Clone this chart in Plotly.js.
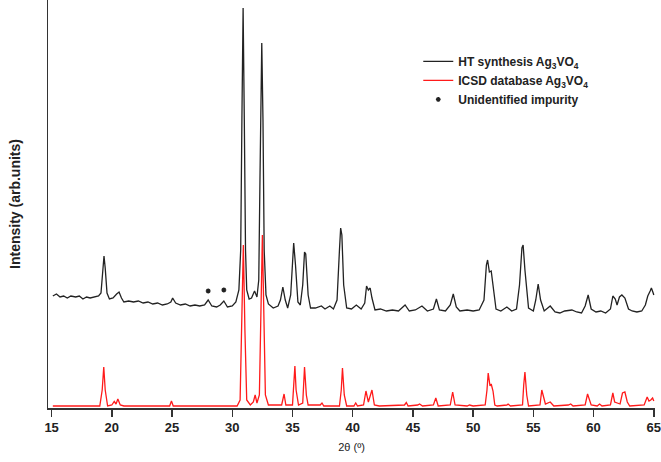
<!DOCTYPE html>
<html>
<head>
<meta charset="utf-8">
<script src="https://cdn.plot.ly/plotly-3.0.1.min.js"></script>
<style>html,body{margin:0;padding:0;background:#fff;}#chart{width:661px;height:462px;}</style>
</head>
<body>
<div id="chart"></div>
<script>
// HT synthesis Ag3VO4 (measured pattern), 2θ in degrees and intensity (arb. units)
const htTheta = [15.1,15.4,15.7,16.0,16.3,16.6,17.0,17.3,17.6,17.9,18.2,18.6,18.9,19.1,19.25,19.35,19.45,19.6,19.8,20.1,20.4,20.6,20.8,21.0,21.4,21.8,22.2,22.6,23.0,23.4,23.8,24.2,24.6,24.9,25.05,25.3,25.7,26.1,26.5,26.9,27.3,27.7,28.0,28.3,28.7,29.0,29.3,29.6,30.0,30.3,30.55,30.7,30.8,30.9,31.0,31.1,31.2,31.4,31.6,31.85,32.05,32.2,32.3,32.4,32.45,32.55,32.65,32.8,33.0,33.4,33.8,34.0,34.2,34.4,34.6,34.85,35.0,35.1,35.25,35.45,35.65,35.85,36.0,36.1,36.3,36.5,36.9,37.4,37.7,38.1,38.4,38.7,38.9,39.0,39.1,39.25,39.5,39.9,40.3,40.7,41.0,41.15,41.3,41.45,41.6,41.85,42.3,42.8,43.3,43.8,44.35,44.7,45.2,45.75,46.2,46.7,46.95,47.2,47.7,48.1,48.35,48.6,48.9,49.5,50.0,50.5,50.9,51.1,51.2,51.35,51.5,51.7,51.9,52.3,52.8,53.2,53.6,53.85,54.05,54.15,54.3,54.6,55.0,55.2,55.4,55.6,55.9,56.4,56.8,57.2,57.6,58.2,58.6,59.0,59.3,59.55,59.8,60.2,60.6,61.0,61.4,61.6,61.8,61.95,62.15,62.35,62.6,62.9,63.2,63.6,64.0,64.3,64.5,64.7,64.8,64.95,65.0];
const htIntensity = [112,114,111,112,110,112,111,112,109,111,110,111,112,115,138,152,140,115,109,110,114,116,110,106,107,106,107,105,106,104,105,103,104,106,110,105,103,104,102,103,102,103,108,102,101,103,107,101,102,106,118,158,288,400,288,158,118,109,110,117,111,128,228,348,365,288,158,113,104,100,102,108,121,108,100,113,153,165,143,106,103,123,156,154,113,100,100,102,99,102,99,108,158,180,173,123,100,99,103,99,105,122,118,120,110,98,99,97,98,97,103,97,98,102,97,99,109,98,97,103,114,101,97,98,97,98,108,143,148,136,137,118,99,97,101,97,99,123,160,163,138,100,97,108,124,108,97,102,96,95,97,98,96,95,102,113,99,96,97,95,99,112,109,103,111,113,110,99,97,96,97,103,112,117,120,115,113];

// ICSD database Ag3VO4 (reference pattern)
const icsdTheta = [15.1,19.0,19.2,19.33,19.45,19.65,20.0,20.2,20.35,20.5,20.7,21.0,24.8,24.95,25.1,30.4,30.65,30.8,30.92,31.05,31.2,31.5,31.75,31.9,32.05,32.25,32.4,32.5,32.6,32.75,33.0,34.1,34.3,34.45,35.0,35.1,35.2,35.3,35.5,35.85,36.0,36.15,36.3,37.3,37.45,37.6,38.9,39.05,39.15,39.3,39.5,40.1,40.25,40.4,40.9,41.1,41.3,41.6,41.8,42.2,44.3,44.45,44.6,45.4,45.55,45.8,46.7,46.9,47.1,48.1,48.3,48.5,49.5,49.7,50.0,51.0,51.15,51.25,51.4,51.5,51.65,51.8,52.0,52.8,52.9,53.1,54.1,54.2,54.3,54.45,54.6,55.55,55.7,55.85,56.0,56.4,56.7,57.9,58.1,58.3,59.3,59.5,59.65,59.8,60.3,60.5,60.7,61.4,61.6,61.75,62.2,62.4,62.6,62.8,63.0,64.2,64.45,64.6,64.75,64.9,65.0];
const icsdIntensity = [2,2,18,41,18,2,3,6.5,4,9,3,2,2,7,2,2,8,78,163,78,8,3,6,13,5,13,108,173,108,13,3,3,14,3,3,18,42,18,3,5,41,13,3,3,5,2,2,18,40,13,2,2,5,2,3,17,6,18,3,2,3,5.5,2,3,4,2,3,10,2,3,16,3,2,3,2,3,18,35,22,24,17,3,2,3,4,2,3,23,36,13,2,3,18,11,4,6,2,3,4,2,3,14,8,3,2,4,2,3,15,6,4,15,16,6,2,3,11,7,8,10,7];

// Unidentified impurity markers
const impTheta = [28.0, 29.3];
const impIntensity = [117, 118];

const legendHT = 'HT synthesis Ag<sub>3</sub>VO<sub>4</sub>';
const legendICSD = 'ICSD database Ag<sub>3</sub>VO<sub>4</sub>';
const legendImp = 'Unidentified impurity';
const xTicks = [15,20,25,30,35,40,45,50,55,60,65];

const traces = [
  {x: htTheta, y: htIntensity, type: 'scatter', mode: 'lines', name: legendHT,
   line: {color: '#222222', width: 1.3}},
  {x: icsdTheta, y: icsdIntensity, type: 'scatter', mode: 'lines', name: legendICSD,
   line: {color: '#ff1a1a', width: 1.3}},
  {x: impTheta, y: impIntensity, type: 'scatter', mode: 'markers', name: legendImp,
   marker: {symbol: 'asterisk-open', size: 4, color: '#222222', line: {color: '#222222', width: 1.4}}}
];

const layout = {
  width: 661, height: 462,
  margin: {l: 48, r: 6, t: 0, b: 54},
  paper_bgcolor: '#ffffff', plot_bgcolor: '#ffffff',
  font: {family: 'Liberation Sans, Arial, sans-serif', color: '#222222'},
  showlegend: true,
  legend: {x: 0.61, y: 0.885, xanchor: 'left', yanchor: 'top', bgcolor: 'rgba(0,0,0,0)',
           font: {size: 12, weight: 'bold', color: '#222222'}, tracegroupgap: 0},
  xaxis: {range: [14.7, 65.1], tickvals: xTicks, ticktext: xTicks.map(String),
          ticks: 'outside', ticklen: 7, tickwidth: 1.5, tickcolor: '#333333',
          ticklabeloverflow: 'allow',
          showline: true, linecolor: '#333333', linewidth: 1.5, showgrid: false, zeroline: false,
          tickfont: {size: 13, weight: 'bold', color: '#222222'},
          title: {text: '2θ (º)', font: {size: 11, color: '#222222'}, standoff: 9}},
  yaxis: {range: [0, 408], showticklabels: false, ticks: '', showgrid: false, zeroline: false,
          showline: true, linecolor: '#333333', linewidth: 1.5,
          title: {text: 'Intensity (arb.units)', font: {size: 14, weight: 'bold', color: '#222222'}, standoff: 22}}
};

Plotly.newPlot('chart', traces, layout, {displayModeBar: false, staticPlot: true});
</script>
</body>
</html>
